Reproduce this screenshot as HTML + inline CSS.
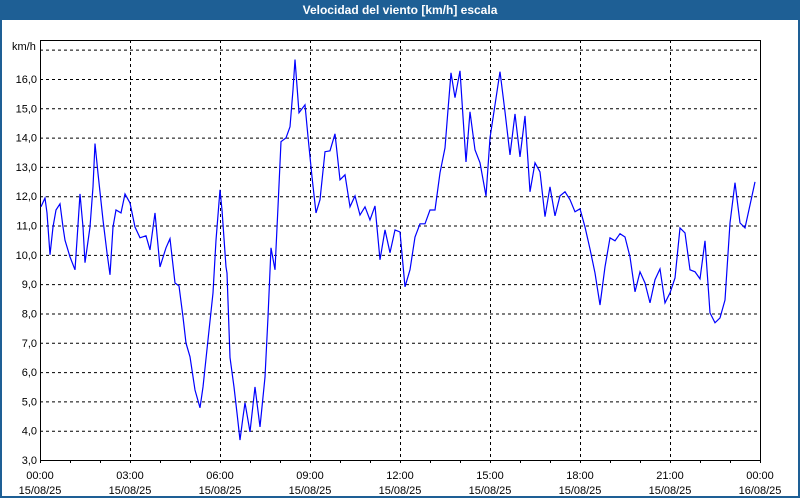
<!DOCTYPE html>
<html><head><meta charset="utf-8"><style>
html,body{margin:0;padding:0;background:#fff;}
#wrap{position:relative;width:796px;height:496px;border:2px solid #1e5f95;border-top:none;background:#fff;}
#title{position:absolute;left:-2px;top:0;width:800px;height:20px;background:#1e5f95;color:#fff;font:bold 12px "Liberation Sans",sans-serif;text-align:center;line-height:20px;}
svg{position:absolute;left:-2px;top:0;}
text{font-family:"Liberation Sans",sans-serif;font-size:11px;fill:#000;}
</style></head><body>
<div id="wrap">
<div id="title">Velocidad del viento [km/h] escala</div>
<svg id="chart" width="800" height="500"></svg>
</div>
<script>
const minutes=[2,10,14,20,26,32,40,46,50,60,70,74,80,86,90,100,106,110,116,126,134,140,146,152,162,170,180,190,200,212,220,230,240,252,260,270,278,286,292,300,310,320,326,336,346,352,360,364,372,
374,380,388,394,400,406,410,420,430,440,450,456,462,470,476,482,492,500,506,510,518,530,536,544,552,560,570,580,590,600,610,620,630,640,650,660,670,680,690,700,710,720,730,
740,750,760,770,780,790,800,810,816,822,830,840,846,852,860,870,880,892,900,910,920,930,940,950,960,970,980,990,1000,1010,1020,1030,1040,1050,1060,1070,1080,1090,1100,
1110,1120,1130,1140,1150,1160,1170,1180,1190,1200,1210,1220,1230,1240,1250,1260,1270,1280,1290,1300,1310,1320,1330,1340,1350,1360,1370,1380,1390,1400,1410,1420,1430];
const speeds=[11.64,11.94,11.43,10.0,10.95,11.53,11.74,10.95,10.5,9.93,9.49,10.5,12.08,10.95,9.73,10.95,12.32,13.8,12.78,11.19,10.07,9.32,10.95,11.53,11.43,12.08,11.77,10.95,10.58,10.65,10.17,11.43,9.59,10.24,10.55,9.04,8.94,7.88,6.99,6.52,5.39,4.78,5.49,7.1,8.7,10.5,12.22,11.53,9.59,
9.38,6.5,5.49,4.6,3.68,4.47,4.95,3.96,5.49,4.13,5.83,7.88,10.24,9.49,11.64,13.86,13.99,14.37,15.63,16.66,14.85,15.12,14.03,12.66,11.43,11.88,13.52,13.55,14.13,12.56,12.73,11.64,12.01,11.36,11.64,11.19,11.67,9.83,10.85,10.07,10.85,10.78,8.91,
9.49,10.61,11.06,11.06,11.53,11.53,12.8,13.65,14.95,16.21,15.36,16.28,14.71,13.17,14.88,13.58,13.14,12.01,13.99,15.12,16.25,14.88,13.41,14.81,13.34,14.74,12.15,13.14,12.83,11.3,12.32,11.33,12.01,12.15,11.88,11.47,11.57,10.95,10.2,
9.38,8.29,9.59,10.58,10.48,10.72,10.61,9.93,8.74,9.42,9.04,8.36,9.15,9.52,8.36,8.7,9.21,10.92,10.75,9.49,9.42,9.18,10.48,8.02,7.68,7.85,8.46,11.09,12.46,11.09,10.92,11.7,12.49];
const yTicks=[3,4,5,6,7,8,9,10,11,12,13,14,15,16];
const xTickTimes=["00:00","03:00","06:00","09:00","12:00","15:00","18:00","21:00","00:00"];
const xTickDates=["15/08/25","15/08/25","15/08/25","15/08/25","15/08/25","15/08/25","15/08/25","15/08/25","16/08/25"];
const L=40,R=760,T=40,B=460,VMIN=3,VMAX=17.33;
const xs=m=>L+(m/1440)*(R-L);
const ys=v=>B-(v-VMIN)/(VMAX-VMIN)*(B-T);
const NS="http://www.w3.org/2000/svg";
const svg=document.getElementById('chart');
function mk(tag,at){const e=document.createElementNS(NS,tag);for(const k in at)e.setAttribute(k,at[k]);svg.appendChild(e);return e;}
for(const v of yTicks.concat([17])){
  if(v===3)continue;
  const g=mk('line',{x1:L,x2:R,y1:ys(v)+0.5,y2:ys(v)+0.5,stroke:'#000','stroke-dasharray':'3,3','stroke-width':1});
  
  
}
for(let i=1;i<8;i++){
  const x=Math.round(xs(i*180))+0.5;
  const g=mk('line',{x1:x,x2:x,y1:T,y2:B,stroke:'#000','stroke-dasharray':'3,3','stroke-width':1});
  
  
}
for(let h=0;h<=24;h++){
  const x=Math.round(xs(h*60))+0.5;
  const t=mk('line',{x1:x,x2:x,y1:B,y2:B+3,stroke:'#000'});
  
  
}
const fr=mk('rect',{x:L+0.5,y:T+0.5,width:R-L,height:B-T,fill:'none',stroke:'#000','stroke-width':1});


yTicks.forEach(v=>{
  const t=mk('text',{x:37,y:ys(v)+4,'text-anchor':'end'});
  t.textContent=v.toFixed(1).replace('.',',');
  
  
});
const u=mk('text',{x:12,y:50});u.textContent='km/h';


xTickTimes.forEach((s,i)=>{
  const x=xs(i*180);
  const a=mk('text',{x:x,y:479,'text-anchor':'middle'});a.textContent=s;
  
  
  const b=mk('text',{x:x,y:494,'text-anchor':'middle'});b.textContent=xTickDates[i];
  
  
});
const n=Math.min(minutes.length,speeds.length);
const pts=[];
for(let i=0;i<n;i++)pts.push(xs(minutes[i]).toFixed(1)+','+ys(speeds[i]).toFixed(1));
const line=mk('polyline',{points:pts.join(' '),fill:'none',stroke:'#0000ff','stroke-width':1.2});


</script>
</body></html>
